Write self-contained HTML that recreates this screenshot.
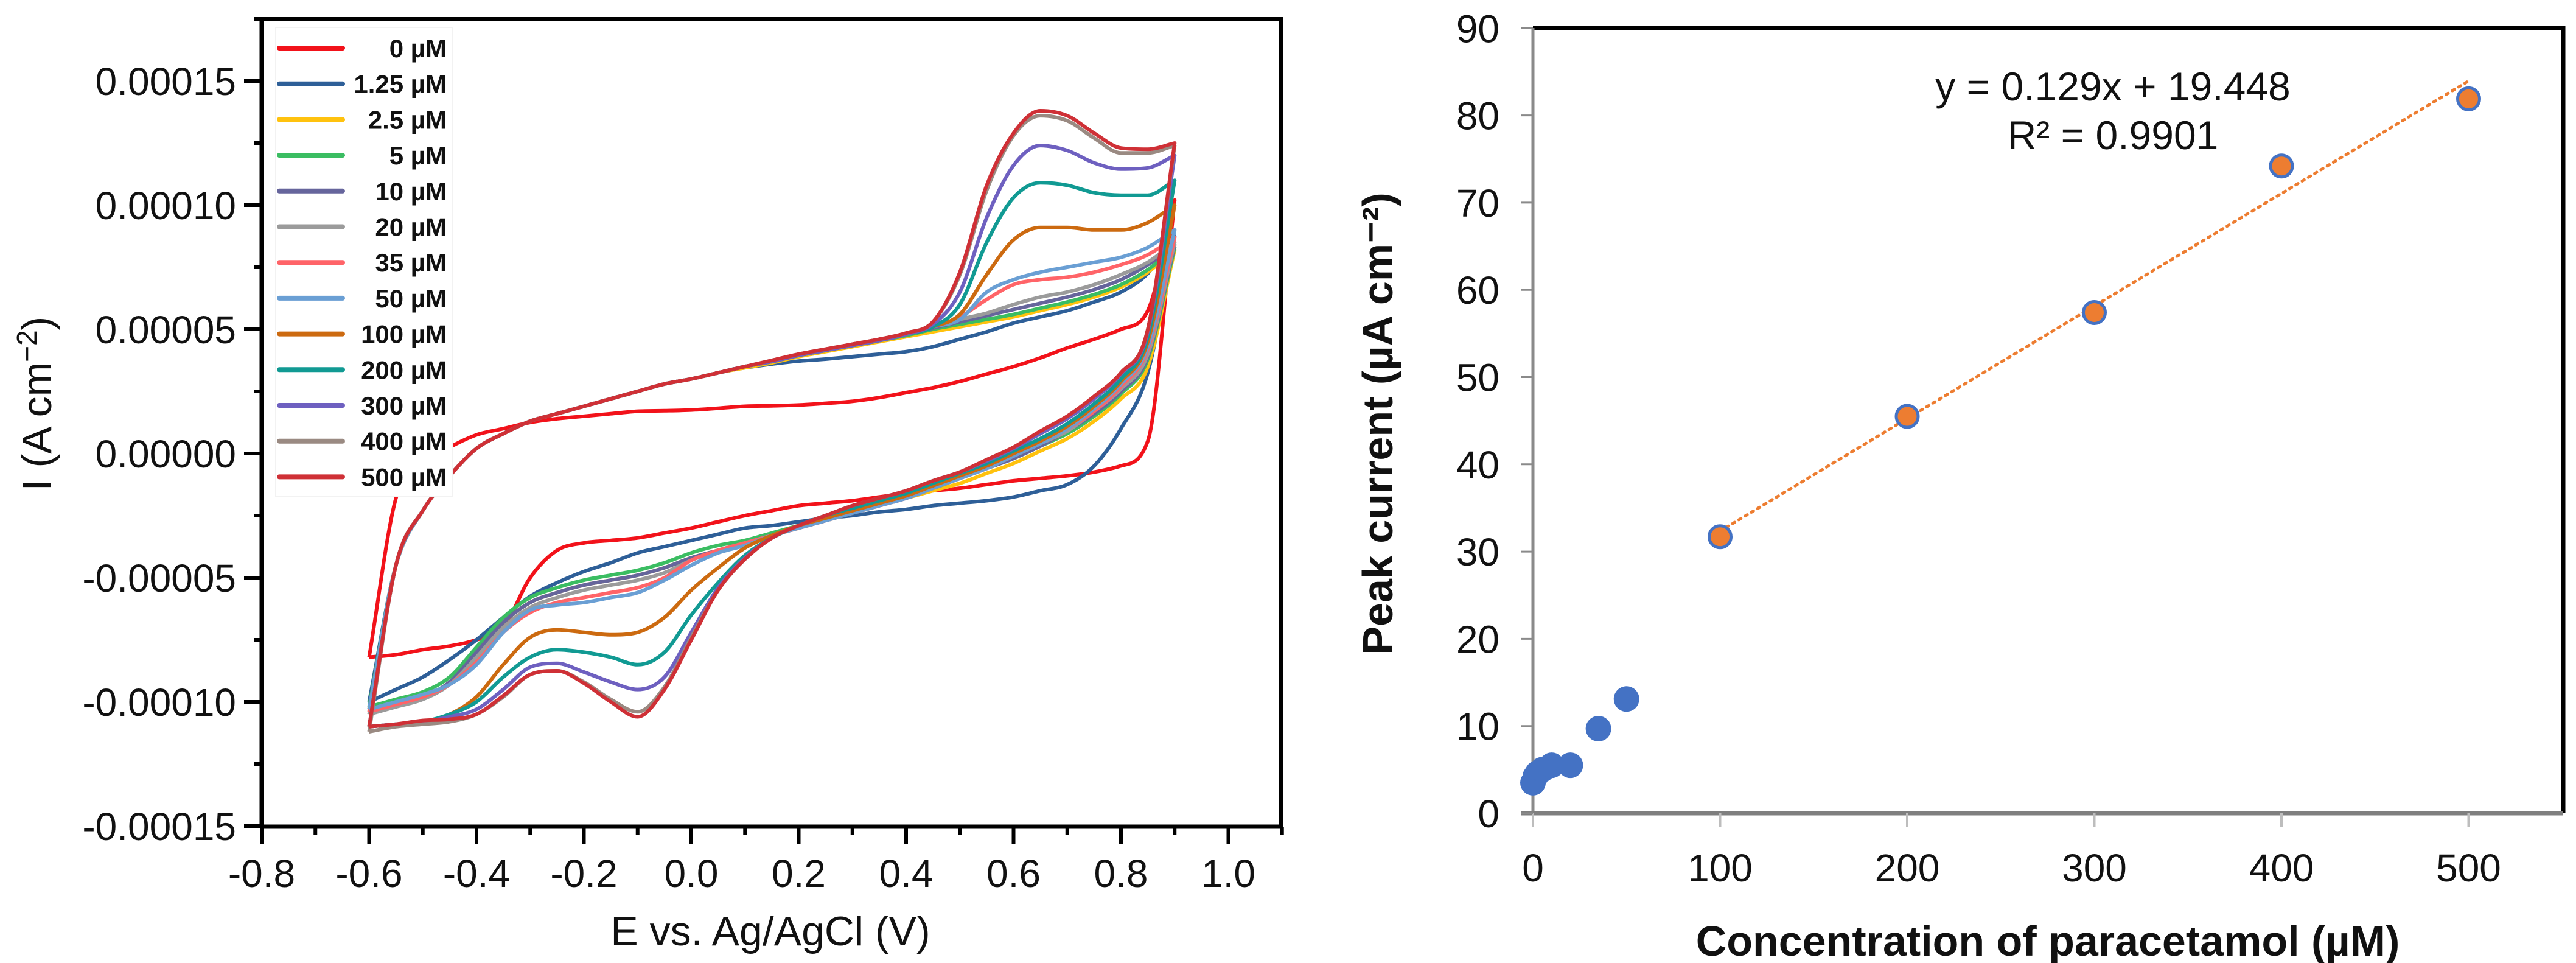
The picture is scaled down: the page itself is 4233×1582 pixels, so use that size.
<!DOCTYPE html>
<html><head><meta charset="utf-8"><style>
html,body{margin:0;padding:0;background:#fff;}
svg{display:block;font-family:"Liberation Sans",Arial,sans-serif;}
</style></head><body>
<svg id="fig" xmlns="http://www.w3.org/2000/svg" width="4233" height="1582" viewBox="0 0 4233 1582">
<g id="left"></g>
<g id="right"></g>
</svg>
<script>
// ===== CV chart data (current in units of 1e-5 A cm^-2) =====
const cvPotentials = [-0.6,-0.55,-0.5,-0.45,-0.4,-0.35,-0.3,-0.25,-0.2,-0.15,-0.1,-0.05,0,0.05,0.1,0.15,0.2,0.25,0.3,0.35,0.4,0.45,0.5,0.55,0.6,0.65,0.7,0.75,0.8,0.85,0.9];
const cvLabels = ["0 µM","1.25 µM","2.5 µM","5 µM","10 µM","20 µM","35 µM","50 µM","100 µM","200 µM","300 µM","400 µM","500 µM"];
const cvColors = ["#f2121a","#2e5f98","#ffc20e","#3bbd62","#66659c","#9b9b9b","#ff6468","#6a9fd4","#cc6a10","#119a93","#6e60c0","#9a8a82","#cf3036"];
const cvUpper0 = [-8.2,-1.8,-0.4,0.25,0.75,1.0,1.25,1.4,1.5,1.6,1.7,1.72,1.75,1.82,1.9,1.92,1.95,2.02,2.1,2.25,2.45,2.65,2.9,3.2,3.5,3.85,4.25,4.6,5.0,5.75,10.2];
const cvLower0 = [-8.2,-8.1,-7.9,-7.75,-7.5,-7.0,-5.0,-3.9,-3.6,-3.5,-3.4,-3.2,-3.0,-2.75,-2.5,-2.3,-2.1,-2.0,-1.9,-1.75,-1.6,-1.5,-1.4,-1.25,-1.1,-1.0,-0.9,-0.75,-0.5,0.5,10.2];
const cvUpper1 = [-10.0,-4.5,-2.3,-0.9,0.2,0.8,1.3,1.6,1.9,2.2,2.5,2.8,3.0,3.25,3.45,3.6,3.72,3.8,3.9,4.0,4.1,4.3,4.6,4.9,5.25,5.5,5.75,6.1,6.5,7.25,8.75];
const cvLower1 = [-10.0,-9.5,-9.0,-8.3,-7.5,-6.6,-5.75,-5.2,-4.75,-4.4,-4.0,-3.75,-3.5,-3.25,-3.0,-2.9,-2.75,-2.6,-2.5,-2.35,-2.25,-2.1,-2.0,-1.9,-1.75,-1.5,-1.25,-0.5,1.0,3.25,8.75];
const cvUpper2 = [-10.3,-4.5,-2.3,-0.9,0.2,0.8,1.3,1.6,1.9,2.2,2.5,2.8,3.0,3.25,3.45,3.65,3.9,4.1,4.3,4.5,4.7,4.9,5.1,5.3,5.5,5.75,6.0,6.3,6.7,7.3,8.2];
const cvLower2 = [-10.3,-10.0,-9.8,-9.2,-8.0,-6.8,-6.0,-5.6,-5.3,-5.1,-4.9,-4.6,-4.2,-3.9,-3.6,-3.3,-3.0,-2.7,-2.4,-2.1,-1.8,-1.5,-1.2,-0.8,-0.4,0.1,0.6,1.3,2.2,3.5,8.2];
const cvUpper3 = [-10.2,-4.5,-2.3,-0.9,0.2,0.8,1.3,1.6,1.9,2.2,2.5,2.8,3.0,3.25,3.5,3.7,3.95,4.15,4.35,4.55,4.75,5.0,5.2,5.4,5.6,5.85,6.1,6.4,6.8,7.4,8.3];
const cvLower3 = [-10.2,-9.9,-9.6,-9.0,-7.8,-6.6,-5.8,-5.4,-5.1,-4.9,-4.7,-4.4,-4.0,-3.7,-3.5,-3.2,-2.9,-2.6,-2.3,-2.0,-1.7,-1.4,-1.0,-0.6,-0.2,0.3,0.8,1.5,2.4,3.8,8.3];
const cvUpper4 = [-10.3,-4.5,-2.3,-0.9,0.2,0.8,1.3,1.6,1.9,2.2,2.5,2.8,3.0,3.25,3.5,3.7,3.95,4.15,4.35,4.55,4.8,5.05,5.3,5.55,5.8,6.05,6.3,6.6,7.0,7.6,8.4];
const cvLower4 = [-10.4,-10.1,-9.8,-9.2,-8.0,-6.8,-6.0,-5.6,-5.3,-5.1,-4.9,-4.6,-4.2,-3.9,-3.6,-3.3,-3.0,-2.7,-2.4,-2.1,-1.8,-1.4,-1.0,-0.6,-0.2,0.3,0.9,1.6,2.5,3.9,8.4];
const cvUpper5 = [-10.5,-4.5,-2.3,-0.9,0.2,0.8,1.3,1.6,1.9,2.2,2.5,2.8,3.0,3.25,3.5,3.7,3.95,4.15,4.35,4.55,4.8,5.1,5.4,5.65,6.0,6.3,6.5,6.8,7.2,7.7,8.5];
const cvLower5 = [-10.5,-10.2,-9.9,-9.3,-8.2,-7.0,-6.2,-5.8,-5.5,-5.3,-5.1,-4.8,-4.3,-3.9,-3.6,-3.3,-3.0,-2.7,-2.4,-2.1,-1.8,-1.4,-1.0,-0.6,-0.1,0.4,0.9,1.7,2.6,4.0,8.5];
const cvUpper6 = [-10.4,-4.5,-2.3,-0.9,0.2,0.8,1.3,1.6,1.9,2.2,2.5,2.8,3.0,3.25,3.5,3.7,3.95,4.15,4.35,4.55,4.8,5.1,5.5,6.2,6.8,7.0,7.1,7.3,7.6,8.0,8.7];
const cvLower6 = [-10.4,-10.1,-9.8,-9.3,-8.4,-7.2,-6.4,-6.0,-5.8,-5.6,-5.4,-5.0,-4.3,-3.9,-3.6,-3.3,-3.0,-2.7,-2.4,-2.1,-1.8,-1.4,-1.0,-0.6,-0.1,0.4,1.0,1.7,2.7,4.2,8.7];
const cvUpper7 = [-10.3,-4.5,-2.3,-0.9,0.2,0.8,1.3,1.6,1.9,2.2,2.5,2.8,3.0,3.25,3.5,3.7,3.95,4.15,4.35,4.55,4.8,5.1,5.4,6.5,7.0,7.3,7.5,7.7,7.9,8.3,9.0];
const cvLower7 = [-10.3,-10.0,-9.7,-9.3,-8.5,-7.2,-6.3,-6.1,-6.0,-5.8,-5.6,-5.1,-4.5,-4.0,-3.7,-3.3,-3.0,-2.7,-2.4,-2.1,-1.8,-1.4,-1.0,-0.6,-0.1,0.4,1.0,1.8,2.8,4.3,9.0];
const cvUpper8 = [-11.0,-4.5,-2.3,-0.9,0.2,0.8,1.3,1.6,1.9,2.2,2.5,2.8,3.0,3.25,3.5,3.7,3.95,4.15,4.35,4.55,4.8,5.1,5.6,7.2,8.6,9.1,9.1,9.0,9.0,9.3,10.0];
const cvLower8 = [-11.0,-10.9,-10.8,-10.5,-9.8,-8.5,-7.4,-7.1,-7.2,-7.3,-7.2,-6.6,-5.5,-4.6,-3.8,-3.3,-2.9,-2.6,-2.3,-2.0,-1.7,-1.3,-0.9,-0.5,0.0,0.5,1.1,1.9,2.9,4.5,10.0];
const cvUpper9 = [-11.0,-4.5,-2.3,-0.9,0.2,0.8,1.3,1.6,1.9,2.2,2.5,2.8,3.0,3.25,3.5,3.7,3.95,4.15,4.35,4.55,4.8,5.1,6.0,8.5,10.3,10.9,10.8,10.5,10.4,10.4,11.0];
const cvLower9 = [-11.0,-10.9,-10.8,-10.5,-10.0,-9.0,-8.2,-7.9,-8.0,-8.2,-8.5,-8.0,-6.5,-5.2,-4.1,-3.4,-2.9,-2.5,-2.2,-1.9,-1.6,-1.2,-0.8,-0.4,0.1,0.6,1.2,2.0,3.0,4.7,11.0];
const cvUpper10 = [-11.0,-4.5,-2.3,-0.9,0.2,0.8,1.3,1.6,1.9,2.2,2.5,2.8,3.0,3.25,3.5,3.7,3.95,4.15,4.35,4.55,4.8,5.2,6.5,9.5,11.6,12.4,12.2,11.7,11.45,11.5,12.0];
const cvLower10 = [-11.0,-10.9,-10.8,-10.6,-10.3,-9.5,-8.6,-8.45,-8.8,-9.2,-9.5,-9.0,-7.2,-5.4,-4.2,-3.4,-2.9,-2.5,-2.1,-1.8,-1.5,-1.1,-0.75,-0.3,0.2,0.8,1.4,2.2,3.2,4.9,12.0];
const cvUpper11 = [-11.2,-4.5,-2.3,-0.9,0.2,0.8,1.3,1.6,1.9,2.2,2.5,2.8,3.0,3.25,3.5,3.75,4.0,4.2,4.4,4.6,4.85,5.3,7.2,10.6,12.8,13.6,13.4,12.7,12.1,12.1,12.4];
const cvLower11 = [-11.2,-11.0,-10.9,-10.8,-10.5,-9.8,-8.9,-8.75,-9.2,-9.9,-10.4,-9.4,-7.4,-5.5,-4.25,-3.4,-2.9,-2.5,-2.1,-1.8,-1.5,-1.1,-0.75,-0.25,0.25,0.9,1.5,2.3,3.25,5.0,12.4];
const cvUpper12 = [-11.0,-4.5,-2.3,-0.9,0.2,0.8,1.3,1.6,1.9,2.2,2.5,2.8,3.0,3.25,3.5,3.75,4.0,4.2,4.4,4.6,4.85,5.3,7.3,10.8,12.9,13.8,13.6,12.9,12.3,12.25,12.5];
const cvLower12 = [-11.0,-10.9,-10.75,-10.7,-10.5,-9.75,-8.9,-8.75,-9.25,-10.0,-10.6,-9.5,-7.5,-5.5,-4.25,-3.4,-2.9,-2.5,-2.1,-1.8,-1.5,-1.1,-0.75,-0.25,0.25,0.9,1.5,2.3,3.25,5.0,12.5];
const cvUppers = [cvUpper0,cvUpper1,cvUpper2,cvUpper3,cvUpper4,cvUpper5,cvUpper6,cvUpper7,cvUpper8,cvUpper9,cvUpper10,cvUpper11,cvUpper12];
const cvLowers = [cvLower0,cvLower1,cvLower2,cvLower3,cvLower4,cvLower5,cvLower6,cvLower7,cvLower8,cvLower9,cvLower10,cvLower11,cvLower12];
const cvXTicks = [-0.8,-0.6,-0.4,-0.2,0.0,0.2,0.4,0.6,0.8,1.0];
const cvXTickLabels = ["-0.8","-0.6","-0.4","-0.2","0.0","0.2","0.4","0.6","0.8","1.0"];
const cvYTicks = [-15,-10,-5,0,5,10,15];
const cvYTickLabels = ["-0.00015","-0.00010","-0.00005","0.00000","0.00005","0.00010","0.00015"];

// ===== Calibration chart data =====
const calConc = [0,1.25,2.5,5,10,20,35,50];
const calPeak = [3.5,4.2,4.6,5.0,5.5,5.5,9.7,13.1];
const calLinConc = [100,200,300,400,500];
const calLinPeak = [31.7,45.5,57.4,74.2,81.9];
const calSlope = [0.129];
const calIntercept = [19.448];
const calXTicks = [0,100,200,300,400,500];
const calYTicks = [0,10,20,30,40,50,60,70,80,90];

const NS = "http://www.w3.org/2000/svg";
function mk(parent, tag, attrs, text){
  const e = document.createElementNS(NS, tag);
  for (const k in attrs) e.setAttribute(k, attrs[k]);
  if (text !== undefined) e.textContent = text;
  parent.appendChild(e);
  return e;
}
// monotone cubic (Fritsch-Carlson) through points with increasing x
function monoPath(pts, reverse){
  const n = pts.length;
  const d = [], m = new Array(n);
  for (let i = 0; i < n-1; i++) d.push((pts[i+1][1]-pts[i][1])/(pts[i+1][0]-pts[i][0]));
  m[0] = d[0]; m[n-1] = d[n-2];
  for (let i = 1; i < n-1; i++) m[i] = (d[i-1]*d[i] <= 0) ? 0 : (d[i-1]+d[i])/2;
  for (let i = 0; i < n-1; i++){
    if (d[i] === 0){ m[i] = 0; m[i+1] = 0; continue; }
    const a = m[i]/d[i], b = m[i+1]/d[i], s = a*a + b*b;
    if (s > 9){ const t = 3/Math.sqrt(s); m[i] = t*a*d[i]; m[i+1] = t*b*d[i]; }
  }
  const segs = [];
  for (let i = 0; i < n-1; i++){
    const h = pts[i+1][0]-pts[i][0];
    segs.push([pts[i], [pts[i][0]+h/3, pts[i][1]+m[i]*h/3], [pts[i+1][0]-h/3, pts[i+1][1]-m[i+1]*h/3], pts[i+1]]);
  }
  const f = p => p[0].toFixed(1)+","+p[1].toFixed(1);
  let s = "";
  if (!reverse){
    s = "M" + f(pts[0]);
    segs.forEach(g => s += " C" + f(g[1]) + " " + f(g[2]) + " " + f(g[3]));
  } else {
    s = "L" + f(pts[n-1]);
    for (let i = segs.length-1; i >= 0; i--){ const g = segs[i]; s += " C" + f(g[2]) + " " + f(g[1]) + " " + f(g[0]); }
  }
  return s;
}

// ---------- Left chart ----------
(function(){
  const g = document.getElementById("left");
  const L = 430, T = 31, R = 2105, B = 1358;
  const xS = e => L + (e + 0.8) * 882.5;
  const yS = v => 745 - v * 40.8;
  const plot = mk(g, "g", {});
  
  
  for (let s = 0; s < cvUppers.length; s++){
    const up = cvPotentials.map((e,i) => [xS(e), yS(cvUppers[s][i])]);
    const lo = cvPotentials.map((e,i) => [xS(e), yS(cvLowers[s][i])]);
    const p = mk(plot, "path", {d: monoPath(up,false) + " " + monoPath(lo,true), fill:"none", stroke: cvColors[s], "stroke-width": 6, "stroke-linejoin":"round"});
    
    
  }
  const fr = mk(g, "path", {d:`M${L},${T} H${R} V${B}`, fill:"none", stroke:"#000", "stroke-width":6});
  
  
  const xa = mk(g, "line", {x1:L-3, y1:B, x2:R+3, y2:B, stroke:"#000", "stroke-width":7});
  
  
  const ya = mk(g, "line", {x1:L, y1:T-3, x2:L, y2:B+3, stroke:"#000", "stroke-width":7});
  
  
  for (let v = -0.8; v <= 1.151; v += 0.1){
    const major = Math.abs(Math.round(v*10)) % 2 === 0;
    const t = mk(g, "line", {x1:xS(v), y1:B, x2:xS(v), y2:B + (major?29:13), stroke:"#000", "stroke-width":6});
    
    
  }
  cvXTicks.forEach((v,i) => {
    const t = mk(g, "text", {x:xS(v), y:1457, "font-size":64, "text-anchor":"middle", fill:"#111"}, cvXTickLabels[i]);
    
    
  });
  for (let v = -15; v <= 17.5; v += 2.5){
    const major = Math.round(v*2) % 10 === 0;
    const t = mk(g, "line", {x1:L, y1:yS(v), x2:L - (major?29:13), y2:yS(v), stroke:"#000", "stroke-width":6});
    
    
  }
  cvYTicks.forEach((v,i) => {
    const t = mk(g, "text", {x:388, y:yS(v)+23, "font-size":64, "text-anchor":"end", fill:"#111"}, cvYTickLabels[i]);
    
    
  });
  const xt = mk(g, "text", {x:1266, y:1553, "font-size":68, "text-anchor":"middle", fill:"#111"}, "E vs. Ag/AgCl (V)");
  
  
  const yt = mk(g, "text", {x:0, y:0, "font-size":68, "text-anchor":"middle", fill:"#111", transform:"translate(84,663) rotate(-90)"});
  
  
  yt.appendChild(document.createTextNode("I (A cm"));
  mk(yt, "tspan", {dy:-24, "font-size":46}, "−2");
  mk(yt, "tspan", {dy:24}, ")");
  const lg = mk(g, "g", {});
  
  
  mk(lg, "rect", {x:453, y:45, width:290, height:770, fill:"#fff", stroke:"#f2f2f2", "stroke-width":2});
  cvLabels.forEach((lab,i) => {
    const y = 79 + i * 58.7;
    const e = mk(lg, "g", {});
    
    
    mk(e, "line", {x1:459, y1:y, x2:563, y2:y, stroke:cvColors[i], "stroke-width":8, "stroke-linecap":"round"});
    mk(e, "text", {x:734, y:y+15, "font-size":42, "font-weight":"bold", "text-anchor":"end", fill:"#111"}, lab);
  });
})();

// ---------- Right chart ----------
(function(){
  const g = document.getElementById("right");
  const L = 2519, T = 46, R = 4212, B = 1336;
  const xS = c => L + c * 3.075;
  const yS = v => B - v * 14.33;
  const fr = mk(g, "path", {d:`M${L},${T} H${R} V${B}`, fill:"none", stroke:"#000", "stroke-width":7});
  
  
  const ya = mk(g, "line", {x1:L, y1:T, x2:L, y2:B, stroke:"#8a8a8a", "stroke-width":5});
  
  
  const xa = mk(g, "line", {x1:L-20, y1:B, x2:R, y2:B, stroke:"#7f7f7f", "stroke-width":7});
  
  
  calXTicks.forEach(v => {
    const t = mk(g, "line", {x1:xS(v), y1:B, x2:xS(v), y2:B+22, stroke:"#bdbdbd", "stroke-width":4});
    
    
    const l = mk(g, "text", {x:xS(v), y:1448, "font-size":64, "text-anchor":"middle", fill:"#111"}, String(v));
    
    
  });
  calYTicks.forEach(v => {
    const t = mk(g, "line", {x1:L-20, y1:yS(v), x2:L, y2:yS(v), stroke:"#8a8a8a", "stroke-width":3});
    
    
    const l = mk(g, "text", {x:2464, y:yS(v)+23, "font-size":64, "text-anchor":"end", fill:"#111"}, String(v));
    
    
  });
  const x0 = calLinConc[0], x1 = calLinConc[calLinConc.length-1];
  const tl = mk(g, "line", {x1:xS(x0), y1:yS(calSlope[0]*x0+calIntercept[0]), x2:xS(x1), y2:yS(calSlope[0]*x1+calIntercept[0]), stroke:"#ed7d31", "stroke-width":5, "stroke-dasharray":"4 8", "stroke-linecap":"round"});
  
  
  calConc.forEach((c,i) => {
    const p = mk(g, "circle", {cx:xS(c), cy:yS(calPeak[i]), r:21, fill:"#4472c4"});
    
    
  });
  calLinConc.forEach((c,i) => {
    const p = mk(g, "circle", {cx:xS(c), cy:yS(calLinPeak[i]), r:18, fill:"#ed7d31", stroke:"#4472c4", "stroke-width":5});
    
    
  });
  const eq = mk(g, "text", {x:3472, y:165, "font-size":66, "text-anchor":"middle", fill:"#111"}, "y = 0.129x + 19.448");
  
  
  const r2 = mk(g, "text", {x:3472, y:245, "font-size":66, "text-anchor":"middle", fill:"#111"}, "R² = 0.9901");
  
  
  const xt = mk(g, "text", {x:3365, y:1570, "font-size":70, "font-weight":"bold", "text-anchor":"middle", fill:"#111"}, "Concentration of paracetamol (µM)");
  
  
  const yt = mk(g, "text", {x:0, y:0, "font-size":70, "font-weight":"bold", "text-anchor":"middle", fill:"#111", transform:"translate(2288,696) rotate(-90)"}, "Peak current (µA cm⁻²)");
  
  
})();
</script>
</body></html>
